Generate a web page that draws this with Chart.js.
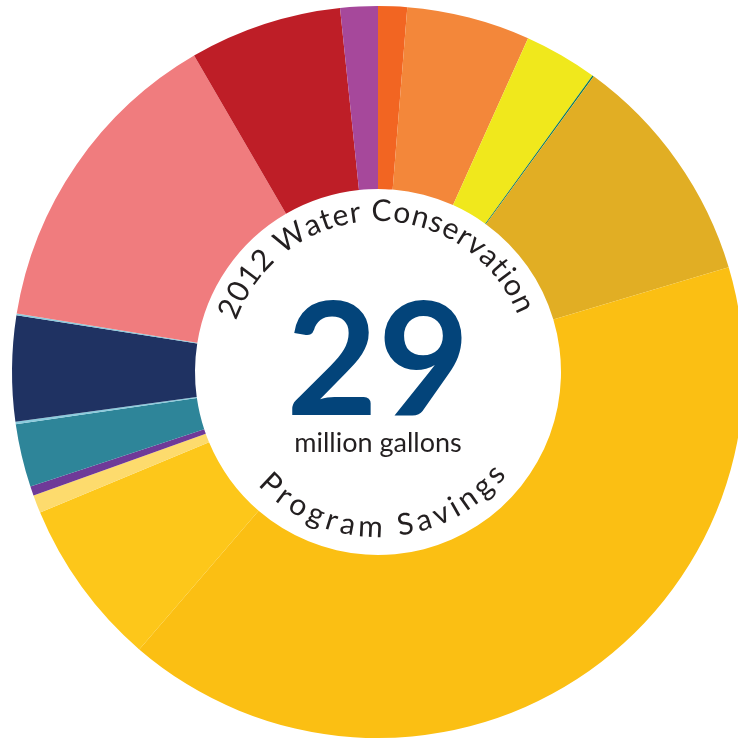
<!DOCTYPE html>
<html>
<head>
<meta charset="utf-8">
<script src="https://cdn.jsdelivr.net/npm/chart.js@4"></script>
<style>
  html, body { margin: 0; padding: 0; background: #fff; overflow: hidden; }
  #wrap { position: absolute; left: 0; top: 0; width: 756px; height: 742px; }
</style>
</head>
<body>
<div id="wrap"><canvas id="savingsChart" width="756" height="742"></canvas></div>
<script>
// savings by program, million gallons (total 29), clockwise from 12 o'clock
const programs = [
  "Program A", "Program B", "Program C", "Program D", "Program E",
  "Program F", "Program G", "Program H", "Program I", "Program J",
  "Program K", "Program L", "Program M", "Program N", "Program O", "Program P"
];
const savings = [
  0.37, 1.58, 0.94, 0.02, 3.00,
  11.87, 2.15, 0.23, 0.12, 0.81,
  0.03, 1.35, 0.02, 4.08, 1.95, 0.48
];
const sliceColors = [
  "#F26522", "#F3873A", "#F0E81C", "#0B7A5E", "#E1AE24",
  "#FBBF13", "#FDC71A", "#FDDB6D", "#6F3A98", "#2E8599",
  "#8BCBDD", "#1F3262", "#8BCBDD", "#F07C7E", "#BE1E27", "#A6489B"
];
const totalLabel = "29";
const unitLabel = "million gallons";
const topTitle = "2012 Water Conservation";
const bottomTitle = "Program Savings";

// draw text along an arc; angles are clockwise from 12 o'clock, in degrees
function arcText(ctx, text, cx, cy, r, centerDeg, spanDeg, onTop) {
  const chars = text.split("");
  const widths = chars.map(c => ctx.measureText(c).width);
  const raw = widths.reduce((a, b) => a + b, 0);
  const span = spanDeg * Math.PI / 180;
  const gap = (span * r - raw) / (chars.length - 1);
  const center = centerDeg * Math.PI / 180;
  let acc = 0;
  chars.forEach((c, i) => {
    const off = (acc + widths[i] / 2) / r;
    const a = onTop ? center - span / 2 + off : center + span / 2 - off;
    ctx.save();
    ctx.translate(cx + r * Math.sin(a), cy - r * Math.cos(a));
    ctx.rotate(onTop ? a : a - Math.PI);
    ctx.fillText(c, 0, 0);
    ctx.restore();
    acc += widths[i] + gap;
  });
}

const centerText = {
  id: "centerText",
  afterDraw(chart) {
    const arc = chart.getDatasetMeta(0).data[0];
    const cx = arc.x, cy = arc.y;
    const ctx = chart.ctx;
    ctx.save();
    ctx.textAlign = "center";
    ctx.textBaseline = "alphabetic";

    ctx.fillStyle = "#03447A";
    ctx.font = "700 158px Lato";
    ctx.fillText(totalLabel, cx, cy + 43);

    ctx.fillStyle = "#231F20";
    ctx.font = "400 27px Lato";
    ctx.fillText(unitLabel, cx, cy + 80);

    ctx.font = "400 30px Lato";
    arcText(ctx, topTitle, cx, cy, 151, -1.2, 138, true);
    arcText(ctx, bottomTitle, cx, cy, 165, 177.8, 98, false);
    ctx.restore();
  }
};

new Chart(document.getElementById("savingsChart"), {
  type: "doughnut",
  data: {
    labels: programs,
    datasets: [{
      data: savings,
      backgroundColor: sliceColors,
      borderWidth: 0,
      hoverOffset: 0
    }]
  },
  options: {
    responsive: false,
    animation: false,
    devicePixelRatio: 1,
    cutout: 183,
    layout: { padding: { top: 6, bottom: 4, left: 0, right: 0 } },
    plugins: {
      legend: { display: false },
      tooltip: { enabled: false }
    }
  },
  plugins: [centerText]
});
</script>
</body>
</html>
